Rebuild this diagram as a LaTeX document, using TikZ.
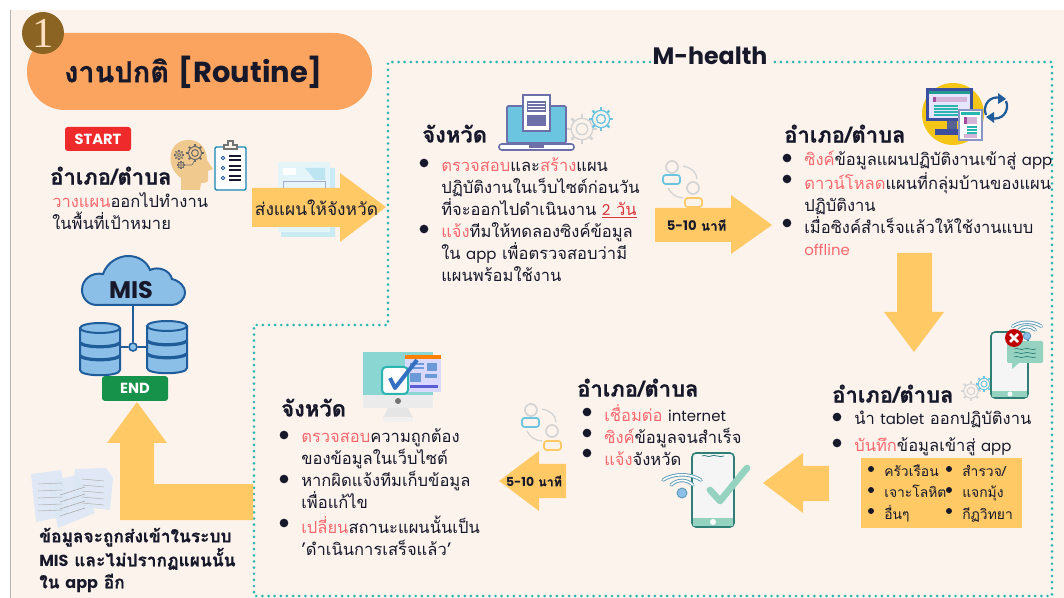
\documentclass[tikz,border=0pt]{standalone}
\usepackage{fontspec}
\setmainfont[Script=Thai,BoldFeatures={FakeBold=0.7}]{Loma}
\newfontfamily\serifdigit{Liberation Serif}
\newfontfamily\pop{Poppins}
\definecolor{paper}{HTML}{FCF3ED}
\definecolor{pill}{HTML}{FBA45F}
\definecolor{flowc}{HTML}{FFC966}
\definecolor{teal1}{HTML}{2AB5AF}
\definecolor{ink}{HTML}{17182A}
\definecolor{hot}{HTML}{F8696F}
\definecolor{deep}{HTML}{D8373C}
\definecolor{cloudf}{HTML}{8BBFE8}
\definecolor{clouds}{HTML}{1F5C99}
\definecolor{gearg}{HTML}{D4D4D4}
\definecolor{gearb}{HTML}{6CC5E0}
\definecolor{mint}{HTML}{95D3C0}
\definecolor{mintd}{HTML}{2F7F77}
\definecolor{lav}{HTML}{6D6FA8}
\definecolor{badgec}{HTML}{8B6423}
\definecolor{navy1}{HTML}{3B4F9E}
\definecolor{purp}{HTML}{D5B4D9}
\definecolor{purpd}{HTML}{A04DA0}
\definecolor{sunny}{HTML}{F5C518}
\definecolor{docf}{HTML}{DCE7F5}
\definecolor{wifis}{HTML}{5E9CB8}
\definecolor{headc}{HTML}{F0C98F}
\definecolor{endc}{HTML}{17924A}
\definecolor{startc}{HTML}{EE2B2A}
\newcommand\hl[1]{\textcolor{hot}{#1}}
\newcommand\lt[1]{{\pop\fontsize{11.2}{16.5}\selectfont #1}}
\newcommand\firstln{\rule{0pt}{11pt}}
\tikzset{
  x=0.75pt,y=-0.75pt,
  flow/.style={fill=flowc,draw=none},
  head/.style={anchor=west,inner sep=0pt,yshift=1pt,text=ink,font=\fontsize{16.5}{18}\selectfont\bfseries},
  blk/.style={anchor=north west,inner sep=0pt,align=left,yshift=7.2pt,text=ink,font=\fontsize{12.4}{16.5}\selectfont},
  smallblk/.style={blk,font=\fontsize{10.4}{16.2}\selectfont},
  dot/.style={fill=ink,draw=none,circle,minimum size=6.5pt,inner sep=0pt},
  smalldot/.style={fill=ink,draw=none,circle,minimum size=4.5pt,inner sep=0pt},
  pics/gearicon/.style n args={3}{code={
    \foreach \a in {0,45,...,315}{\draw[#2,line width=#3*1.6pt] (\a:0.72*#1) -- (\a:#1);}
    \draw[#2,line width=#3*0.9pt] (0,0) circle[radius=0.72*#1];
    \draw[#2,line width=#3*0.9pt] (0,0) circle[radius=0.38*#1];
  }},
  pics/people/.style={code={
    \draw[gearg,line width=1.3pt] (0,0) circle[radius=6];
    \draw[gearb,line width=1.3pt,rounded corners=2pt] (-9,8) rectangle (8,17);
    \draw[gearg,line width=1.3pt] (21,21) circle[radius=6];
    \draw[flowc,line width=1.3pt,rounded corners=2pt] (13,31) rectangle (30,40);
    \draw[gearg,line width=1pt] (11,-1) .. controls (18,0) and (25,5) .. (25,12);
    \draw[gearg,line width=1pt] (-4,21) .. controls (-1,27) and (5,31) .. (11,31);
  }},
  pics/dbstack/.style={code={
    \draw[clouds,fill=cloudf,line width=1.5pt] (-20,5) -- (-20,47) .. controls (-20,54) and (20,54) .. (20,47) -- (20,5);
    \draw[clouds,fill=cloudf,line width=1.5pt] (0,5) ellipse[x radius=20,y radius=5];
    \draw[clouds,line width=2.4pt] (-20,20) .. controls (-14,25) and (14,25) .. (20,20);
    \draw[clouds,line width=2.4pt] (-20,33) .. controls (-14,38) and (14,38) .. (20,33);
  }},
  pics/wifiarcs/.style={code={
    \foreach \k in {0,1}{
      \draw[wifis,line width=2.6pt,line cap=round] (-11-\k*8,-8-\k*5) .. controls (-5-\k*3,-14-\k*6) and (5+\k*3,-14-\k*6) .. (11+\k*8,-8-\k*5);
      \draw[white,line width=1.2pt,line cap=round] (-11-\k*8,-8-\k*5) .. controls (-5-\k*3,-14-\k*6) and (5+\k*3,-14-\k*6) .. (11+\k*8,-8-\k*5);
    }
    \fill[cloudf,draw=wifis,line width=.7pt] (0,0) circle[radius=5];
  }},
}
\begin{document}
\begin{tikzpicture}
\useasboundingbox (0,0) rectangle (1064,598);
\fill[white] (0,0) rectangle (1064,598);
\fill[paper] (11,10) rectangle (1064,598);
\draw[gray!60,line width=.9pt] (10.5,10) -- (10.5,598);

% title
\fill[pill,rounded corners=28.5pt] (27,33) rectangle (372,110);
\fill[badgec] (43,33) circle[radius=21];
\node[text=orange!25!white,font=\fontsize{32}{32}\selectfont\serifdigit,inner sep=0pt] (badge) at (43,33) {1};
\node[text=ink,inner sep=0pt,font=\fontsize{21.7}{26}\selectfont\bfseries] (title) at (193.5,72) {งานปกติ {\pop [Routine]}};

% m-health frame
\node[text=ink,inner sep=0pt,font=\fontsize{17.8}{20}\selectfont\bfseries\pop] (mhealth) at (710,56) {M-health};
\draw[teal1,line width=2.2pt,line cap=round,dash pattern=on 0pt off 4.6pt]
  (650,62) -- (388,62) -- (388,325) -- (254,325) -- (254,596) -- (1052,596) -- (1052,62) -- (770,62);

% start block
\node[fill=startc,text=white,rounded corners=2pt,minimum width=49.5pt,minimum height=18pt,inner sep=0pt,font=\fontsize{11}{12}\selectfont\bfseries\pop] (start) at (98,139) {START};
% head icon
\fill[headc] (181,190) -- (181,178) .. controls (172,172) and (168,160) .. (172,150) .. controls (176,140) and (190,137) .. (199,143) .. controls (206,148) and (207,156) .. (207,160) -- (213,169) -- (208,171) -- (208,180) .. controls (208,183) and (204,183) .. (201,183) -- (200,190) -- cycle;
\pic at (195,153) {gearicon={9}{black!60}{0.8}};
\pic at (179,155) {gearicon={5}{black!60}{0.5}};
\pic at (181,165) {gearicon={4}{black!60}{0.5}};
\draw[black!55,line width=.5pt] (184,165) -- (192,165) -- (195,160);
% clipboard
\draw[clouds!75!cyan,fill=white,line width=1.1pt,rounded corners=1pt] (215,147) rectangle (246,190);
\draw[black!55,fill=paper,line width=.8pt] (224,149) -- (224,145) -- (228,145) -- (228,141) -- (233,141) -- (233,145) -- (237,145) -- (237,149) -- cycle;
\foreach \yy in {158,168,178}{
  \draw[clouds,line width=.7pt] (223,\yy) circle[radius=1.7];
  \draw[ink,line width=.9pt] (229,\yy-2) -- (241,\yy-2);
  \draw[ink,line width=.9pt] (229,\yy+2) -- (241,\yy+2);
}
\node[head] (h1) at (50,177) {อำเภอ/ตำบล};
\node[blk] (t1) at (52,202) {\firstln\hl{วางแผน}ออกไปทำงาน\\ในพื้นที่เป้าหมาย};

% paper icon + arrow
\fill[gearb!35!white] (281,165) -- (330,165) -- (330,168) -- (335,168) -- (335,237) -- (281,237) -- cycle;
\fill[gearb!18!white] (278,162) rectangle (330,232);
\fill[white] (283,168) rectangle (296,175);
\fill[gearb!45!white] (305,168) -- (325,168) -- (325,180) -- (315,180) -- cycle;
\draw[lav!60,line width=.5pt] (283,181) rectangle (325,200);
\fill[flow] (252,188) -- (340,188) -- (340,173) -- (386,207) -- (340,242) -- (340,227) -- (252,227) -- cycle;
\node[inner sep=0pt,text=ink,font=\fontsize{13}{14}\selectfont] (a1) at (316.5,208) {ส่งแผนให้จังหวัด};

% laptop
\pic at (582,129) {gearicon={15}{gearg}{1.2}};
\pic at (601,119) {gearicon={12}{gearb}{1.1}};
\draw[lav,fill=gearb,line width=1.3pt,rounded corners=1pt] (507,106) rectangle (566,143);
\draw[lav,fill=white,line width=1.2pt,rounded corners=2pt] (499,144) rectangle (574,150);
\fill[lav] (529,143) rectangle (544,148);
\draw[lav,fill=white,line width=1.5pt] (523,95) rectangle (550,131);
\fill[lav] (527,101) rectangle (546,112);
\fill[lav] (527,115) rectangle (546,126);
\foreach \yy in {103,106,109}{\draw[white,line width=.5pt] (528,\yy) -- (545,\yy);}
\node[head] (h2) at (422,135) {จังหวัด};
\node[dot] (b21) at (424,163) {};
\node[blk] (t21) at (441,166) {\firstln\hl{ตรวจสอบ}และ\hl{สร้าง}แผน\\ปฏิบัติงานในเว็บไซต์ก่อนวัน\\ที่จะออกไปดำเนินงาน \textcolor{deep}{\underline{\lt{2} วัน}}};
\node[dot] (b22) at (424,229) {};
\node[blk] (t22) at (441,232) {\firstln\hl{แจ้ง}ทีมให้ทดลองซิงค์ข้อมูล\\ใน \lt{app} เพื่อตรวจสอบว่ามี\\แผนพร้อมใช้งาน};

% people + arrow
\pic at (672,167) {people};
\fill[flow] (655,208) -- (731,208) -- (731,195) -- (772,225) -- (731,254) -- (731,242) -- (655,242) -- cycle;
\node[inner sep=0pt,text=ink,font=\fontsize{9.9}{12}\selectfont\bfseries] (a2) at (696.5,225) {{\pop 5-10} นาที};

% sync icon
\fill[sunny] (953,114) circle[radius=31];
\fill[navy1] (926,88) rectangle (973,121);
\fill[white!90!blue] (929,91) rectangle (970,118);
\fill[teal1!85!black] (929,91) rectangle (970,94);
\fill[purp] (934,97) rectangle (967,102);
\fill[purpd] (933,97) rectangle (936,102);
\foreach \yy in {105,108,111,114}{\fill[teal1] (934,\yy) rectangle (958,\yy+2);}
\fill[navy1!60!gray] (947,121) rectangle (957,130);
\fill[navy1] (935,129) rectangle (975,135);
\draw[navy1!60!white,fill=white,line width=1.2pt] (959,110) rectangle (982,140);
\fill[teal1] (961,112) rectangle (980,115);
\fill[purp] (964,117) rectangle (977,124);
\fill[purpd] (964,117) rectangle (967,124);
\foreach \yy in {126,129,132}{\fill[teal1] (967,\yy) rectangle (977,\yy+2);}
\fill[purp] (964,134) rectangle (977,138);
\draw[clouds,line width=1.7pt] (986,115) .. controls (982,105) and (990,95) .. (1001,98);
\fill[clouds] (998,93) -- (1006,99) -- (998,104) -- cycle;
\draw[clouds,line width=1.7pt] (1006,101) .. controls (1010,111) and (1002,121) .. (991,118);
\fill[clouds] (994,123) -- (986,117) -- (994,112) -- cycle;

\node[head] (h3) at (784,135) {อำเภอ/ตำบล};
\node[dot] (b31) at (787,158) {};
\node[blk] (t31) at (804,160.5) {\firstln\hl{ซิงค์}ข้อมูลแผนปฏิบัติงานเข้าสู่ \lt{app}};
\node[dot] (b32) at (787,179) {};
\node[blk] (t32) at (804,182) {\firstln\hl{ดาวน์โหลด}แผนที่กลุ่มบ้านของแผน\\ปฏิบัติงาน};
\node[dot] (b33) at (787,223) {};
\node[blk] (t33) at (804,226) {\firstln เมื่อซิงค์สำเร็จแล้วให้ใช้งานแบบ\\\hl{\lt{offline}}};

% down arrow
\fill[flow] (897,253) -- (932,253) -- (932,312) -- (944,312) -- (914,352) -- (884,312) -- (897,312) -- cycle;

% phone with cross
\pic at (971,391) {gearicon={10}{gearg}{.9}};
\pic at (984,384) {gearicon={8}{gearb}{.8}};
\draw[mintd,fill=white!92!gray,line width=1.2pt,rounded corners=3pt] (991,332) rectangle (1028,398);
\fill[mint] (992,391) -- (1027,391) -- (1027,397) -- (992,397) -- cycle;
\fill[white] (1010,394) circle[radius=2.5];
\pic[scale=0.75] at (1027,336) {wifiarcs};
\fill[mint,rounded corners=1pt] (1007,341) rectangle (1043,363);
\fill[mint] (1012,362) -- (1012,369) -- (1020,362) -- cycle;
\foreach \yy in {349,353,357}{\draw[mintd,line width=.5pt] (1014,\yy) .. controls (1018,\yy-2) and (1020,\yy+2) .. (1024,\yy) .. controls (1028,\yy-2) and (1032,\yy+2) .. (1036,\yy);}
\fill[red!75!black] (1014,338) circle[radius=9];
\draw[white,line width=2pt] (1010,334) -- (1018,342);
\draw[white,line width=2pt] (1018,334) -- (1010,342);

\node[head] (h4) at (832,395) {อำเภอ/ตำบล};
\node[dot] (b41) at (837,417) {};
\node[blk] (t41) at (854,419) {\firstln นำ \lt{tablet} ออกปฏิบัติงาน};
\node[dot] (b42) at (837,443) {};
\node[blk] (t42) at (854,446) {\firstln\hl{บันทึก}ข้อมูลเข้าสู่ \lt{app}};
\fill[flowc] (861,458) rectangle (1022,528);
\node[smalldot] (s1) at (871,469) {};
\node[smalldot] (s2) at (871,490) {};
\node[smalldot] (s3) at (871,511) {};
\node[smalldot] (s4) at (949,469) {};
\node[smalldot] (s5) at (949,490) {};
\node[smalldot] (s6) at (949,511) {};
\node[smallblk] (t43) at (884,471) {\firstln ครัวเรือน\\เจาะโลหิต\\อื่นๆ};
\node[smallblk] (t44) at (962,471) {\firstln สำรวจ/\\แจกมุ้ง\\กีฏวิทยา};

% left arrow, middle
\fill[flow] (829,466) -- (803,466) -- (803,453) -- (763,483) -- (803,513) -- (803,501) -- (829,501) -- cycle;

% phone with check
\draw[mintd,fill=white!92!gray,line width=1.2pt,rounded corners=3pt] (692,453) rectangle (734,527);
\fill[mint] (693,518) -- (733,518) -- (733,526) -- (693,526) -- cycle;
\fill[white] (713,522) circle[radius=3];
\draw[mintd,line width=.6pt] (702,456) .. controls (705,454) and (708,458) .. (711,456) .. controls (714,454) and (720,458) .. (724,456);
\draw[mint,line width=5pt,line cap=round,line join=round] (710,490) -- (720,501) -- (747,468);
\pic at (682,493) {wifiarcs};

\node[head] (h5) at (577,389) {อำเภอ/ตำบล};
\node[dot] (b51) at (587,412) {};
\node[dot] (b52) at (587,433) {};
\node[dot] (b53) at (587,453) {};
\node[blk] (t51) at (604,414) {\firstln\hl{เชื่อมต่อ} \lt{internet}\\\hl{ซิงค์}ข้อมูลจนสำเร็จ\\\hl{แจ้ง}จังหวัด};

% people + arrow 2
\pic at (531,410) {people};
\fill[flow] (566,464) -- (539,464) -- (539,451) -- (499,481) -- (539,511) -- (539,498) -- (566,498) -- cycle;
\node[inner sep=0pt,text=ink,font=\fontsize{9.3}{12}\selectfont\bfseries] (a3) at (534,481) {{\pop 5-10} นาที};

% monitor check
\fill[teal1!55!white] (363,352) rectangle (433,395);
\fill[black!8] (363,395) rectangle (433,408);
\fill[black!55] (398,401) circle[radius=3];
\fill[black!10] (388,408) -- (408,408) -- (413,418) -- (383,418) -- cycle;
\fill[black!6,rounded corners=2pt] (383,417) rectangle (413,422);
\fill[white!85!blue] (405,355) rectangle (441,392);
\fill[orange] (405,355) rectangle (441,359);
\fill[cyan!50!blue!60] (427,363) rectangle (437,371);
\draw[cyan!50!blue!60,line width=1pt] (410,364) -- (424,364);
\draw[cyan!50!blue!60,line width=1pt] (410,368) -- (424,368);
\fill[cyan!50!blue!60] (410,373) rectangle (421,382);
\fill[cyan!50!blue!60] (425,374) rectangle (437,378);
\fill[blue!60!gray!80] (410,385) rectangle (438,388);
\draw[teal1,fill=white,line width=1.5pt,rounded corners=3pt] (382,367) rectangle (408,394);
\draw[teal!60!blue!80,line width=3pt,line join=round] (390,378) -- (395,388) -- (417,360);

\node[head] (h6) at (281,409) {จังหวัด};
\node[dot] (b61) at (284,435) {};
\node[blk] (t61) at (301,437) {\firstln\hl{ตรวจสอบ}ความถูกต้อง\\ของข้อมูลในเว็บไซต์};
\node[dot] (b62) at (284,479) {};
\node[blk] (t62) at (301,481) {\firstln หากผิดแจ้งทีมเก็บข้อมูล\\เพื่อแก้ไข};
\node[dot] (b63) at (284,523) {};
\node[blk] (t63) at (301,525) {\firstln\hl{เปลี่ยน}สถานะแผนนั้นเป็น\\'ดำเนินการเสร็จแล้ว'};

% L arrow
\fill[flow] (253,520) -- (120,520) -- (120,443) -- (107,443) -- (137,402) -- (167,443) -- (154,443) -- (154,484) -- (253,484) -- cycle;

% docs icon
\fill[docf,opacity=.9] (75,469) -- (106,468) -- (113,478) -- (110,510) -- (72,506) -- cycle;
\fill[docf,opacity=.9] (31,474) -- (61,470) -- (70,515) -- (36,522) -- cycle;
\fill[docf,opacity=.9] (48,482) -- (77,475) -- (95,513) -- (58,528) -- cycle;
\foreach \yy in {484,491,498,505,511}{\draw[gray!60,line width=.4pt] (38,\yy) -- (62,\yy-1);}
\foreach \yy in {479,485,491,497,503}{\draw[gray!60,line width=.4pt] (82,\yy) -- (104,\yy+2);}
\foreach \yy in {493,500,507,514}{\draw[gray!70,line width=.4pt] (60,\yy+2) -- (85,\yy-6);}

\node[blk,font=\fontsize{13}{16.5}\selectfont\bfseries] (t7) at (39,537) {\firstln ข้อมูลจะถูกส่งเข้าในระบบ\\{\pop\fontsize{12}{16.5}\selectfont MIS} และไม่ปรากฏแผนนั้น\\ใน {\pop\fontsize{12}{16.5}\selectfont app} อีก};

% MIS
\coordinate (cloudbot) at (133,305);
\coordinate (dbl) at (120,347);
\coordinate (dbr) at (146,347);
\pic at (100,323) {dbstack};
\pic at (167,321) {dbstack};
\node[circle,draw=clouds,fill=cloudf,line width=1.2pt,inner sep=0pt,minimum size=6pt] (hub) at (133,347) {};
\draw[clouds,line width=1.7pt] (cloudbot) -- (hub);
\draw[clouds,line width=1.7pt] (dbl) -- (hub);
\draw[clouds,line width=1.7pt] (dbr) -- (hub);
\draw[clouds,fill=cloudf,line width=1.5pt] (97,305) .. controls (87,305) and (82,297) .. (82,290) .. controls (82,279) and (92,272) .. (103,274) .. controls (107,262) and (119,256) .. (128,256) .. controls (139,256) and (147,262) .. (150,270) .. controls (158,266) and (170,270) .. (172,279) .. controls (180,281) and (185,287) .. (185,292) .. controls (185,300) and (178,305) .. (172,305) -- cycle;
\node[inner sep=0pt,text=ink,font=\fontsize{18}{20}\selectfont\bfseries\pop] (mis) at (131,290) {MIS};
\node[fill=endc,text=white,rounded corners=2pt,minimum width=49.5pt,minimum height=18.5pt,inner sep=0pt,font=\fontsize{11}{12}\selectfont\bfseries\pop] (endbox) at (135,388.5) {END};
\end{tikzpicture}
\end{document}
